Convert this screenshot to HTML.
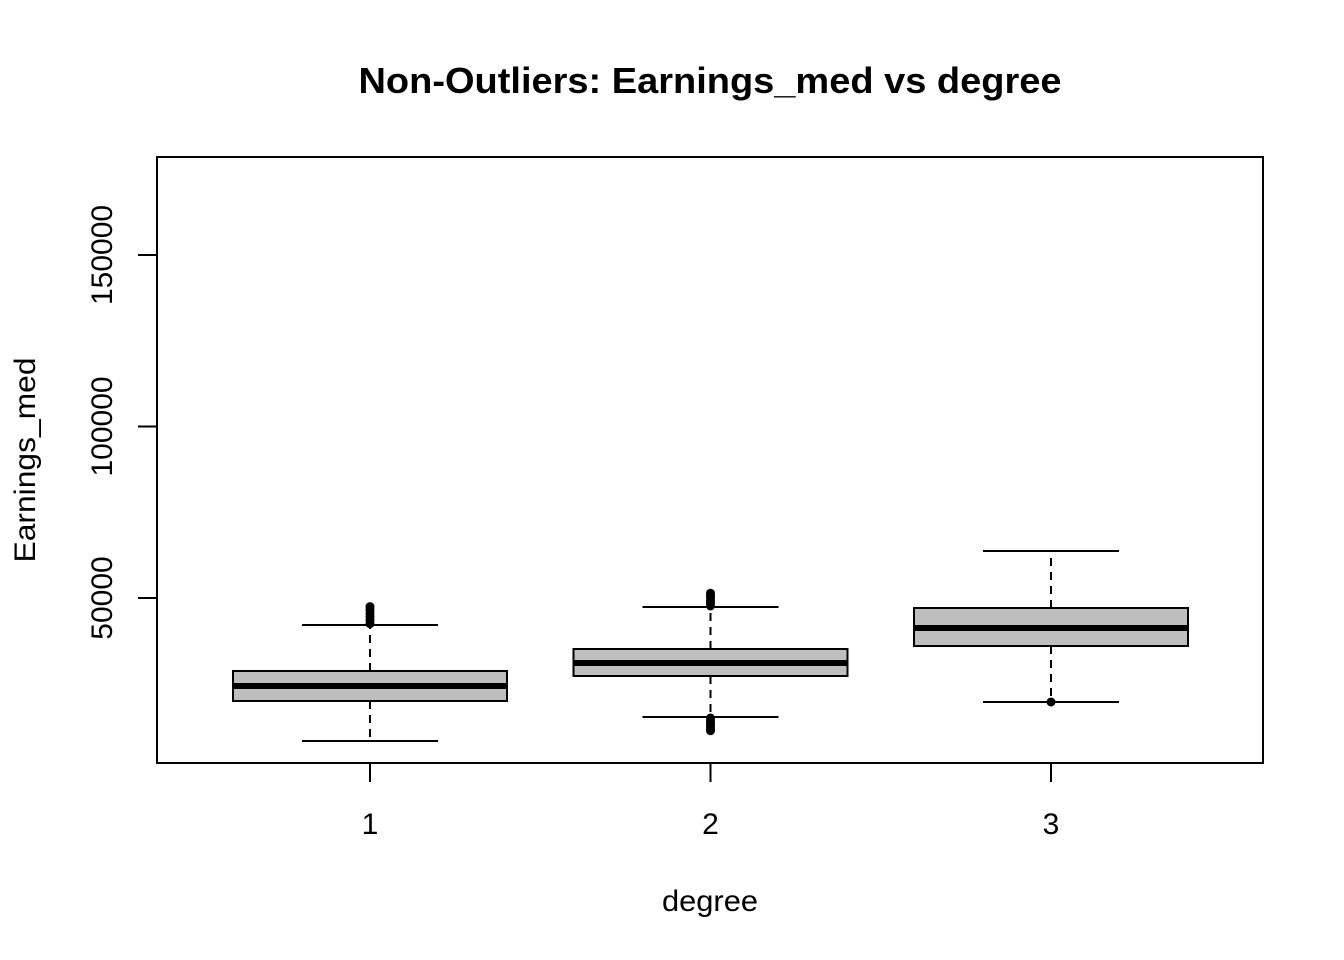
<!DOCTYPE html>
<html><head><meta charset="utf-8"><style>
body{margin:0;background:#fff}
svg{display:block;font-family:"Liberation Sans",Arial,sans-serif}
</style></head><body>
<svg id="c" width="1344" height="960">
<text x="710" y="93" text-anchor="middle" font-size="36" font-weight="bold" textLength="703" lengthAdjust="spacingAndGlyphs">Non-Outliers: Earnings_med vs degree</text>
<rect x="157" y="157" width="1106" height="606" fill="none" stroke="#000" stroke-width="2"/>
<text x="710" y="911" text-anchor="middle" font-size="30" textLength="96" lengthAdjust="spacingAndGlyphs">degree</text>
<text transform="translate(35,460) rotate(-90)" text-anchor="middle" font-size="30" textLength="205" lengthAdjust="spacingAndGlyphs">Earnings_med</text>
<g id="marks"></g>
</svg>
<script>
const categories=["1","2","3"];
const q1=[19975,27260,36000];
const med=[24350,31050,41250];
const q3=[28720,35130,47085];
const whiskLo=[8300,15310,19680];
const whiskHi=[42130,47380,63700];
const outlierLo=[[],[11300,12000,12800,13500,14200,15000],[19680]];
const outlierHi=[[42500,43500,44500,45500,46500,47500],[47700,48500,49300,50100,50800,51400],[]];
const yTicks=[50000,100000,150000];

const NS="http://www.w3.org/2000/svg";
const g=document.getElementById('marks');
const y=v=>769.5-v*0.003430;
const x=i=>370+i*340.5;
function el(t,a,name){const e=document.createElementNS(NS,t);for(const k in a)e.setAttribute(k,a[k]);


g.appendChild(e);return e;}
yTicks.forEach(v=>{
  el('line',{x1:138,x2:157,y1:y(v),y2:y(v),stroke:'#000','stroke-width':2},'y-tick');
  const t=el('text',{transform:`translate(112,${y(v)}) rotate(-90)`,'text-anchor':'middle','font-size':30},'y-tick-label');t.textContent=v;
});
categories.forEach((c,i)=>{
  const cx=x(i);
  el('line',{x1:cx,x2:cx,y1:763,y2:782,stroke:'#000','stroke-width':2},'x-tick');
  const t=el('text',{x:cx,y:834,'text-anchor':'middle','font-size':30},'x-tick-label');t.textContent=c;
  el('line',{x1:cx,x2:cx,y1:y(q3[i]),y2:y(whiskHi[i]),stroke:'#000','stroke-width':2,'stroke-dasharray':'8,6'},'upper-whisker');
  el('line',{x1:cx,x2:cx,y1:y(q1[i]),y2:y(whiskLo[i]),stroke:'#000','stroke-width':2,'stroke-dasharray':'8,6'},'lower-whisker');
  el('line',{x1:cx-68,x2:cx+68,y1:y(whiskHi[i]),y2:y(whiskHi[i]),stroke:'#000','stroke-width':2},'upper-cap');
  el('line',{x1:cx-68,x2:cx+68,y1:y(whiskLo[i]),y2:y(whiskLo[i]),stroke:'#000','stroke-width':2},'lower-cap');
  el('rect',{x:cx-137,y:y(q3[i]),width:274,height:y(q1[i])-y(q3[i]),fill:'#bebebe',stroke:'#000','stroke-width':2},'box-'+c);
  el('line',{x1:cx-137,x2:cx+137,y1:y(med[i]),y2:y(med[i]),stroke:'#000','stroke-width':6},'median-'+c);
  outlierLo[i].concat(outlierHi[i]).forEach(v=>{
    el('circle',{cx:cx,cy:y(v),r:4,fill:'#000',stroke:'#000','stroke-width':1},'outlier-point');
  });
});
</script>
</body></html>
